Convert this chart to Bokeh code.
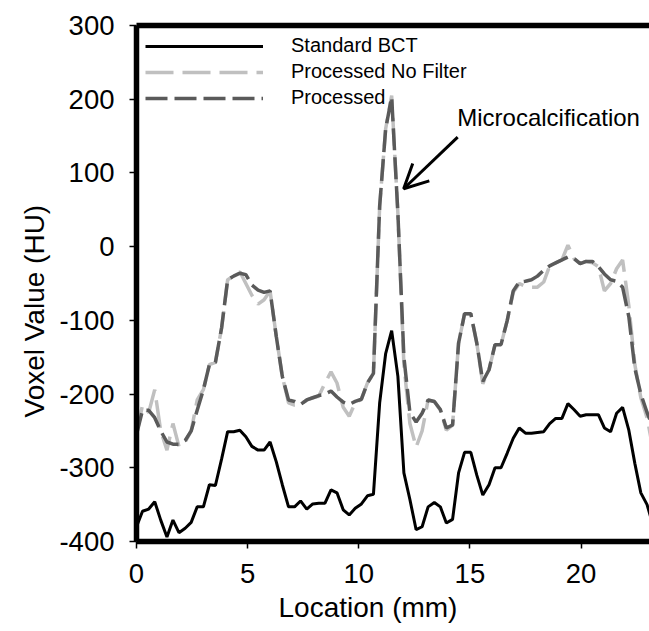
from bokeh.plotting import figure
from bokeh.models import (Range1d, FixedTicker, LinearAxis, Legend, LegendItem,
                          Label, Arrow, OpenHead, Title, ColumnDataSource)
from bokeh.embed import file_html
from bokeh.resources import INLINE

# ---- data ----
location_mm = [0.00, 0.27, 0.55, 0.82, 1.09, 1.37, 1.64, 1.91, 2.19, 2.46,
               2.73, 3.01, 3.28, 3.55, 3.83, 4.10, 4.37, 4.65, 4.92, 5.19,
               5.47, 5.74, 6.01, 6.29, 6.56, 6.84, 7.11, 7.38, 7.66, 7.93,
               8.20, 8.48, 8.75, 9.02, 9.30, 9.57, 9.84, 10.12, 10.39, 10.66,
               10.94, 11.21, 11.48, 11.76, 12.03, 12.30, 12.58, 12.85, 13.12, 13.40,
               13.67, 13.94, 14.22, 14.49, 14.76, 15.04, 15.31, 15.58, 15.86, 16.13,
               16.40, 16.68, 16.95, 17.22, 17.50, 17.77, 18.04, 18.32, 18.59, 18.86,
               19.14, 19.41, 19.68, 19.96, 20.23, 20.51, 20.78, 21.05, 21.33, 21.60,
               21.87, 22.15, 22.42, 22.69, 22.97, 23.24]

standard_bct = [-380, -359, -356, -346, -371, -394, -371, -388, -382, -374,
                -353, -353, -323, -324, -288, -251, -251, -249, -258, -271,
                -276, -276, -265, -292, -323, -353, -353, -345, -356, -349,
                -348, -348, -330, -334, -357, -364, -355, -349, -338, -336,
                -212, -145, -114, -176, -307, -343, -384, -380, -353, -347,
                -353, -375, -370, -307, -279, -279, -310, -337, -323, -300,
                -300, -280, -260, -246, -253, -253, -252, -251, -240, -233,
                -233, -213, -221, -230, -228, -228, -228, -246, -251, -226,
                -218, -249, -294, -334, -350, -378]

processed_no_filter = [-255, -215, -225, -194, -250, -276, -240, -271, -265, -250,
                       -208, -194, -160, -157, -110, -45, -40, -34, -50, -66,
                       -78, -72, -60, -122, -176, -212, -215, -214, -208, -205,
                       -203, -185, -170, -185, -218, -230, -212, -207, -185, -172,
                       55, 160, 205, 45, -160, -240, -272, -250, -208, -210,
                       -222, -249, -242, -131, -91, -91, -131, -186, -167, -133,
                       -133, -100, -62, -50, -54, -55, -55, -48, -26, -22,
                       -18, 2, -16, -23, -20, -22, -27, -60, -50, -30,
                       -18, -80, -160, -205, -232, -275]

processed = [-255, -222, -222, -232, -250, -265, -268, -268, -263, -250,
             -222, -194, -160, -157, -110, -45, -40, -36, -38, -52,
             -59, -62, -60, -122, -176, -208, -210, -214, -208, -205,
             -202, -200, -196, -204, -211, -214, -210, -207, -185, -172,
             55, 160, 203, 45, -150, -225, -238, -226, -208, -210,
             -221, -246, -242, -131, -91, -91, -131, -183, -167, -133,
             -133, -100, -60, -48, -47, -45, -40, -32, -26, -22,
             -18, -14, -16, -23, -20, -20, -27, -37, -45, -47,
             -55, -95, -165, -200, -225, -245]

x_ticks = [0, 5, 10, 15, 20]
x_tick_labels = ["0", "5", "10", "15", "20"]
y_ticks = [-400, -300, -200, -100, 0, 100, 200, 300]
y_tick_labels = ["-400", "-300", "-200", "-100", "0", "100", "200", "300"]

series_names = ["Standard BCT", "Processed No Filter", "Processed"]
annotation_text = "Microcalcification"
x_title = "Location (mm)"
y_title = "Voxel Value (HU)"

FONT = "Liberation Sans"

src = ColumnDataSource(dict(x=location_mm, std=standard_bct,
                            nof=processed_no_filter, proc=processed))

p = figure(width=649, height=631, output_backend="svg", toolbar_location=None,
           x_range=Range1d(0, 23.08), y_range=Range1d(-400, 300),
           min_border_left=136, min_border_right=0, min_border_top=25,
           min_border_bottom=90)
p.outline_line_color = None
p.xgrid.visible = False
p.ygrid.visible = False
p.background_fill_color = "white"
p.border_fill_color = "white"

for ax, ticks, labels in ((p.xaxis[0], x_ticks, x_tick_labels),
                          (p.yaxis[0], y_ticks, y_tick_labels)):
    ax.ticker = FixedTicker(ticks=ticks)
    ax.major_label_overrides = {t: l for t, l in zip(ticks, labels)}
    ax.axis_line_width = 5.5
    ax.axis_line_color = "black"
    ax.major_tick_line_width = 1.5
    ax.major_tick_line_color = "black"
    ax.major_tick_in = 0
    ax.major_tick_out = 7
    ax.minor_tick_line_color = None
    ax.major_label_text_font = FONT
    ax.major_label_text_font_size = "27.5px"
    ax.major_label_text_color = "black"
p.yaxis[0].major_label_standoff = 15
p.xaxis[0].major_label_standoff = 15

top_axis = LinearAxis(ticker=FixedTicker(ticks=[]), axis_line_width=5.5,
                      axis_line_color="black", major_tick_out=0, major_tick_in=0,
                      minor_tick_out=0, minor_tick_in=0,
                      major_label_text_font_size="0px")
p.add_layout(top_axis, "above")

r_nof = p.line("x", "nof", source=src, line_color="#c0c0c0", line_width=3.5,
               line_dash="28 9")
r_proc = p.line("x", "proc", source=src, line_color="#5a5a5a", line_width=3.5,
                line_dash="22 7")
r_std = p.line("x", "std", source=src, line_color="black", line_width=3)

legend = Legend(items=[LegendItem(label=series_names[0], renderers=[r_std]),
                       LegendItem(label=series_names[1], renderers=[r_nof]),
                       LegendItem(label=series_names[2], renderers=[r_proc])],
                location="top_left", glyph_width=118, glyph_height=20,
                label_height=20, spacing=3, label_standoff=28,
                label_text_font=FONT, label_text_font_size="20px",
                label_text_color="black", border_line_color=None,
                background_fill_alpha=0, margin=9, padding=0)
p.add_layout(legend)

p.add_layout(Label(x=14.43, y=175, text=annotation_text, text_font=FONT,
                   text_font_size="24px", text_color="black",
                   text_baseline="alphabetic"))
p.add_layout(Arrow(x_start=14.45, y_start=148.5, x_end=12.02, y_end=78.5,
                   line_width=3, line_color="black",
                   end=OpenHead(size=24, line_width=3, line_color="black")))

yt = Title(text=y_title, align="left", offset=124, text_font=FONT,
           text_font_size="28px", text_font_style="normal", text_color="black",
           standoff=14)
p.add_layout(yt, "left")
xt = Title(text=x_title, align="left", offset=142, text_font=FONT,
           text_font_size="28px", text_font_style="normal", text_color="black",
           standoff=8)
p.add_layout(xt, "below")

open("out.html", "w").write(file_html(p, INLINE))
